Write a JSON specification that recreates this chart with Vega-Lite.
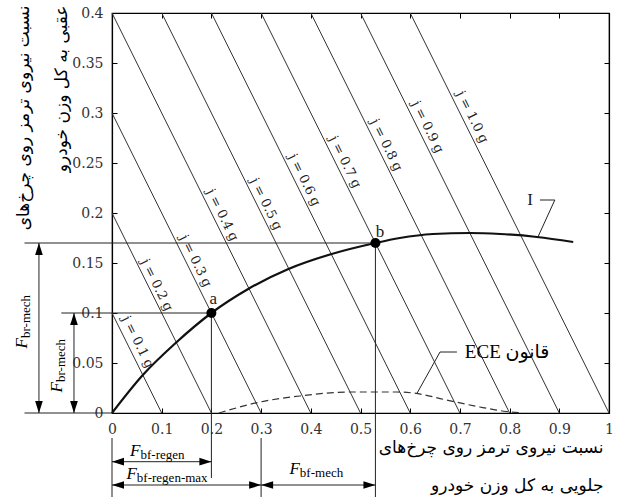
{
  "$schema": "https://vega.github.io/schema/vega-lite/v6.json",
  "width": 497,
  "height": 400,
  "autosize": {"type": "none"},
  "padding": {"left": 112, "top": 13, "right": 10, "bottom": 86},
  "background": "white",
  "config": {
    "view": {"stroke": "black", "strokeWidth": 1.2},
    "axis": {"grid": false, "labelFont": "DejaVu Serif", "labelFontSize": 14, "labelColor": "#333", "tickColor": "black", "domainColor": "black", "domainWidth": 1.2, "tickWidth": 1, "tickSize": -5, "labelFlush": false, "labelOverlap": false}
  },
  "datasets": {
    "jlines": [
      {"j": "0.1", "x": 0, "y": 0.1}, {"j": "0.1", "x": 0.1, "y": 0},
      {"j": "0.2", "x": 0, "y": 0.2}, {"j": "0.2", "x": 0.2, "y": 0},
      {"j": "0.3", "x": 0, "y": 0.3}, {"j": "0.3", "x": 0.3, "y": 0},
      {"j": "0.4", "x": 0, "y": 0.4}, {"j": "0.4", "x": 0.4, "y": 0},
      {"j": "0.5", "x": 0.1, "y": 0.4}, {"j": "0.5", "x": 0.5, "y": 0},
      {"j": "0.6", "x": 0.2, "y": 0.4}, {"j": "0.6", "x": 0.6, "y": 0},
      {"j": "0.7", "x": 0.3, "y": 0.4}, {"j": "0.7", "x": 0.7, "y": 0},
      {"j": "0.8", "x": 0.4, "y": 0.4}, {"j": "0.8", "x": 0.8, "y": 0},
      {"j": "0.9", "x": 0.5, "y": 0.4}, {"j": "0.9", "x": 0.9, "y": 0},
      {"j": "1.0", "x": 0.6, "y": 0.4}, {"j": "1.0", "x": 1.0, "y": 0}
    ],
    "jlabels": [
      {"label": "j = 0.1 g", "x": 0.052, "y": 0.071},
      {"label": "j = 0.2 g", "x": 0.09, "y": 0.128},
      {"label": "j = 0.3 g", "x": 0.168, "y": 0.152},
      {"label": "j = 0.4 g", "x": 0.222, "y": 0.198},
      {"label": "j = 0.5 g", "x": 0.31, "y": 0.209},
      {"label": "j = 0.6 g", "x": 0.387, "y": 0.233},
      {"label": "j = 0.7 g", "x": 0.469, "y": 0.251},
      {"label": "j = 0.8 g", "x": 0.552, "y": 0.268},
      {"label": "j = 0.9 g", "x": 0.635, "y": 0.286},
      {"label": "j = 1.0 g", "x": 0.725, "y": 0.296}
    ],
    "curve": [
      {"x": 0, "y": 0}, {"x": 0.062, "y": 0.038}, {"x": 0.128, "y": 0.07},
      {"x": 0.2, "y": 0.1}, {"x": 0.274, "y": 0.124}, {"x": 0.355, "y": 0.144},
      {"x": 0.442, "y": 0.159}, {"x": 0.53, "y": 0.17}, {"x": 0.579, "y": 0.175},
      {"x": 0.646, "y": 0.179}, {"x": 0.72, "y": 0.18}, {"x": 0.781, "y": 0.179},
      {"x": 0.855, "y": 0.176}, {"x": 0.928, "y": 0.171}
    ],
    "ece": [
      {"x": 0.215, "y": 0}, {"x": 0.298, "y": 0.011}, {"x": 0.378, "y": 0.017},
      {"x": 0.479, "y": 0.021}, {"x": 0.573, "y": 0.021}, {"x": 0.606, "y": 0.02},
      {"x": 0.673, "y": 0.013}, {"x": 0.74, "y": 0.006}, {"x": 0.794, "y": 0.0015},
      {"x": 0.827, "y": 0}
    ],
    "rules": [
      {"x": -0.176, "x2": 0.53, "y": 0.17, "y2": 0.17},
      {"x": -0.102, "x2": 0.2, "y": 0.1, "y2": 0.1},
      {"x": -0.176, "x2": 0, "y": 0, "y2": 0},
      {"x": 0.2, "x2": 0.2, "y": 0.1, "y2": -0.065},
      {"x": 0.53, "x2": 0.53, "y": 0.17, "y2": -0.084},
      {"x": 0, "x2": 0, "y": -0.025, "y2": -0.084},
      {"x": 0.3, "x2": 0.3, "y": -0.025, "y2": -0.084},
      {"x": 0, "x2": 0.2, "y": -0.0487, "y2": -0.0487},
      {"x": 0, "x2": 0.3, "y": -0.072, "y2": -0.072},
      {"x": 0.3, "x2": 0.53, "y": -0.072, "y2": -0.072},
      {"x": -0.147, "x2": -0.147, "y": 0, "y2": 0.17},
      {"x": -0.0765, "x2": -0.0765, "y": 0, "y2": 0.1}
    ],
    "headsRight": [{"x": 0.2, "y": -0.0487}, {"x": 0.3, "y": -0.072}, {"x": 0.53, "y": -0.072}],
    "headsLeft": [{"x": 0, "y": -0.0487}, {"x": 0, "y": -0.072}, {"x": 0.3, "y": -0.072}],
    "headsUp": [{"x": -0.147, "y": 0.17}, {"x": -0.0765, "y": 0.1}],
    "headsDown": [{"x": -0.147, "y": 0}, {"x": -0.0765, "y": 0}],
    "leaders": [
      {"id": "I", "o": 1, "x": 0.861, "y": 0.213},
      {"id": "I", "o": 2, "x": 0.891, "y": 0.213},
      {"id": "I", "o": 3, "x": 0.857, "y": 0.176},
      {"id": "E", "o": 1, "x": 0.694, "y": 0.061},
      {"id": "E", "o": 2, "x": 0.66, "y": 0.061},
      {"id": "E", "o": 3, "x": 0.614, "y": 0.02}
    ],
    "points": [{"x": 0.2, "y": 0.1}, {"x": 0.53, "y": 0.17}],
    "letters": [
      {"t": "a", "x": 0.204, "y": 0.114},
      {"t": "b", "x": 0.539, "y": 0.181},
      {"t": "I", "x": 0.841, "y": 0.213}
    ],
    "ecelabel": [{"t": "ECE قانون", "x": 0.71, "y": 0.061}],
    "fh": [
      {"sub": "bf-regen", "x": 0.0573, "y": -0.043},
      {"sub": "bf-regen-max", "x": 0.05, "y": -0.066},
      {"sub": "bf-mech", "x": 0.378, "y": -0.061}
    ],
    "fv": [
      {"sub": "br-mech", "x": -0.171, "y": 0.075},
      {"sub": "br-mech", "x": -0.1006, "y": 0.031}
    ]
  },
  "layer": [
    {
      "data": {"name": "jlines"},
      "mark": {"type": "line", "color": "#333", "strokeWidth": 1},
      "encoding": {
        "x": {"field": "x", "type": "quantitative", "scale": {"domain": [0, 1], "nice": false},
          "axis": {"orient": "bottom", "values": [0, 0.1, 0.2, 0.3, 0.4, 0.5, 0.6, 0.7, 0.8, 0.9, 1], "format": ".1~f", "labelPadding": 14,
            "title": ["نسبت نیروی ترمز روی چرخ‌های", "جلویی به کل وزن خودرو"],
            "titleFont": "DejaVu Sans", "titleFontSize": 17, "titleFontWeight": "normal", "titleColor": "black",
            "titleAlign": "right", "titleBaseline": "top", "titleLineHeight": 38, "titleX": 491, "titleY": 26}},
        "y": {"field": "y", "type": "quantitative", "scale": {"domain": [0, 0.4], "nice": false},
          "axis": {"orient": "left", "values": [0, 0.05, 0.1, 0.15, 0.2, 0.25, 0.3, 0.35, 0.4], "format": ".2~f", "labelPadding": 14,
            "title": ["نسبت نیروی ترمز روی چرخ‌های", "عقبی به کل وزن خودرو"],
            "titleFont": "DejaVu Sans", "titleFontSize": 17, "titleFontWeight": "normal", "titleColor": "black",
            "titleAngle": 270, "titleAlign": "right", "titleBaseline": "top", "titleLineHeight": 38, "titleX": -97, "titleY": -8}},
        "detail": {"field": "j"}
      }
    },
    {
      "data": {"name": "curve"},
      "mark": {"type": "line", "color": "#111", "strokeWidth": 2.2, "interpolate": "monotone"},
      "encoding": {
        "x": {"field": "x", "type": "quantitative", "scale": {"domain": [0, 1], "nice": false},
          "axis": {"orient": "top", "values": [0, 0.1, 0.2, 0.3, 0.4, 0.5, 0.6, 0.7, 0.8, 0.9, 1], "labels": false, "title": null}},
        "y": {"field": "y", "type": "quantitative", "scale": {"domain": [0, 0.4], "nice": false},
          "axis": {"orient": "right", "values": [0, 0.05, 0.1, 0.15, 0.2, 0.25, 0.3, 0.35, 0.4], "labels": false, "title": null}}
      }
    },
    {
      "data": {"name": "ece"},
      "mark": {"type": "line", "color": "#333", "strokeWidth": 1.2, "strokeDash": [7, 4], "interpolate": "monotone"},
      "encoding": {
        "x": {"field": "x", "type": "quantitative", "scale": {"domain": [0, 1], "nice": false}, "axis": null},
        "y": {"field": "y", "type": "quantitative", "scale": {"domain": [0, 0.4], "nice": false}, "axis": null}
      }
    },
    {
      "data": {"name": "rules"},
      "mark": {"type": "rule", "color": "#222", "strokeWidth": 1},
      "encoding": {
        "x": {"field": "x", "type": "quantitative", "scale": {"domain": [0, 1], "nice": false}, "axis": null},
        "x2": {"field": "x2"},
        "y": {"field": "y", "type": "quantitative", "scale": {"domain": [0, 0.4], "nice": false}, "axis": null},
        "y2": {"field": "y2"}
      }
    },
    {
      "data": {"name": "leaders"},
      "mark": {"type": "line", "color": "#222", "strokeWidth": 1},
      "encoding": {
        "x": {"field": "x", "type": "quantitative", "scale": {"domain": [0, 1], "nice": false}, "axis": null},
        "y": {"field": "y", "type": "quantitative", "scale": {"domain": [0, 0.4], "nice": false}, "axis": null},
        "detail": {"field": "id"},
        "order": {"field": "o"}
      }
    },
    {
      "data": {"name": "headsRight"},
      "mark": {"type": "point", "shape": "M0,0L-1,-0.32L-1,0.32Z", "filled": true, "size": 576, "angle": 0, "color": "black", "opacity": 1, "strokeWidth": 0},
      "encoding": {
        "x": {"field": "x", "type": "quantitative", "scale": {"domain": [0, 1], "nice": false}, "axis": null},
        "y": {"field": "y", "type": "quantitative", "scale": {"domain": [0, 0.4], "nice": false}, "axis": null}
      }
    },
    {
      "data": {"name": "headsLeft"},
      "mark": {"type": "point", "shape": "M0,0L-1,-0.32L-1,0.32Z", "filled": true, "size": 576, "angle": 180, "color": "black", "opacity": 1, "strokeWidth": 0},
      "encoding": {
        "x": {"field": "x", "type": "quantitative", "scale": {"domain": [0, 1], "nice": false}, "axis": null},
        "y": {"field": "y", "type": "quantitative", "scale": {"domain": [0, 0.4], "nice": false}, "axis": null}
      }
    },
    {
      "data": {"name": "headsUp"},
      "mark": {"type": "point", "shape": "M0,0L-1,-0.32L-1,0.32Z", "filled": true, "size": 576, "angle": 270, "color": "black", "opacity": 1, "strokeWidth": 0},
      "encoding": {
        "x": {"field": "x", "type": "quantitative", "scale": {"domain": [0, 1], "nice": false}, "axis": null},
        "y": {"field": "y", "type": "quantitative", "scale": {"domain": [0, 0.4], "nice": false}, "axis": null}
      }
    },
    {
      "data": {"name": "headsDown"},
      "mark": {"type": "point", "shape": "M0,0L-1,-0.32L-1,0.32Z", "filled": true, "size": 576, "angle": 90, "color": "black", "opacity": 1, "strokeWidth": 0},
      "encoding": {
        "x": {"field": "x", "type": "quantitative", "scale": {"domain": [0, 1], "nice": false}, "axis": null},
        "y": {"field": "y", "type": "quantitative", "scale": {"domain": [0, 0.4], "nice": false}, "axis": null}
      }
    },
    {
      "data": {"name": "points"},
      "mark": {"type": "circle", "size": 100, "color": "black", "opacity": 1},
      "encoding": {
        "x": {"field": "x", "type": "quantitative", "scale": {"domain": [0, 1], "nice": false}, "axis": null},
        "y": {"field": "y", "type": "quantitative", "scale": {"domain": [0, 0.4], "nice": false}, "axis": null}
      }
    },
    {
      "data": {"name": "jlabels"},
      "mark": {"type": "text", "font": "DejaVu Serif", "fontSize": 13, "angle": 63.6, "align": "center", "baseline": "middle", "color": "#222"},
      "encoding": {
        "x": {"field": "x", "type": "quantitative", "scale": {"domain": [0, 1], "nice": false}, "axis": null},
        "y": {"field": "y", "type": "quantitative", "scale": {"domain": [0, 0.4], "nice": false}, "axis": null},
        "text": {"field": "label"}
      }
    },
    {
      "data": {"name": "letters"},
      "mark": {"type": "text", "font": "Liberation Serif", "fontSize": 17, "align": "center", "baseline": "middle", "color": "#222"},
      "encoding": {
        "x": {"field": "x", "type": "quantitative", "scale": {"domain": [0, 1], "nice": false}, "axis": null},
        "y": {"field": "y", "type": "quantitative", "scale": {"domain": [0, 0.4], "nice": false}, "axis": null},
        "text": {"field": "t"}
      }
    },
    {
      "data": {"name": "ecelabel"},
      "mark": {"type": "text", "font": "Liberation Serif, DejaVu Sans", "fontSize": 19, "align": "left", "baseline": "middle", "color": "black"},
      "encoding": {
        "x": {"field": "x", "type": "quantitative", "scale": {"domain": [0, 1], "nice": false}, "axis": null},
        "y": {"field": "y", "type": "quantitative", "scale": {"domain": [0, 0.4], "nice": false}, "axis": null},
        "text": {"field": "t"}
      }
    },
    {
      "data": {"name": "fh"},
      "mark": {"type": "text", "font": "Liberation Serif", "fontSize": 17, "fontStyle": "italic", "align": "right", "baseline": "alphabetic", "color": "black"},
      "encoding": {
        "x": {"field": "x", "type": "quantitative", "scale": {"domain": [0, 1], "nice": false}, "axis": null},
        "y": {"field": "y", "type": "quantitative", "scale": {"domain": [0, 0.4], "nice": false}, "axis": null},
        "text": {"value": "F"}
      }
    },
    {
      "data": {"name": "fh"},
      "mark": {"type": "text", "font": "Liberation Serif", "fontSize": 13, "align": "left", "baseline": "alphabetic", "dy": 3, "color": "black"},
      "encoding": {
        "x": {"field": "x", "type": "quantitative", "scale": {"domain": [0, 1], "nice": false}, "axis": null},
        "y": {"field": "y", "type": "quantitative", "scale": {"domain": [0, 0.4], "nice": false}, "axis": null},
        "text": {"field": "sub"}
      }
    },
    {
      "data": {"name": "fv"},
      "mark": {"type": "text", "font": "Liberation Serif", "fontSize": 17, "fontStyle": "italic", "angle": 270, "align": "right", "baseline": "alphabetic", "color": "black"},
      "encoding": {
        "x": {"field": "x", "type": "quantitative", "scale": {"domain": [0, 1], "nice": false}, "axis": null},
        "y": {"field": "y", "type": "quantitative", "scale": {"domain": [0, 0.4], "nice": false}, "axis": null},
        "text": {"value": "F"}
      }
    },
    {
      "data": {"name": "fv"},
      "mark": {"type": "text", "font": "Liberation Serif", "fontSize": 13, "angle": 270, "align": "left", "baseline": "alphabetic", "dy": 3, "color": "black"},
      "encoding": {
        "x": {"field": "x", "type": "quantitative", "scale": {"domain": [0, 1], "nice": false}, "axis": null},
        "y": {"field": "y", "type": "quantitative", "scale": {"domain": [0, 0.4], "nice": false}, "axis": null},
        "text": {"field": "sub"}
      }
    }
  ],
  "resolve": {"axis": {"x": "independent", "y": "independent"}}
}
